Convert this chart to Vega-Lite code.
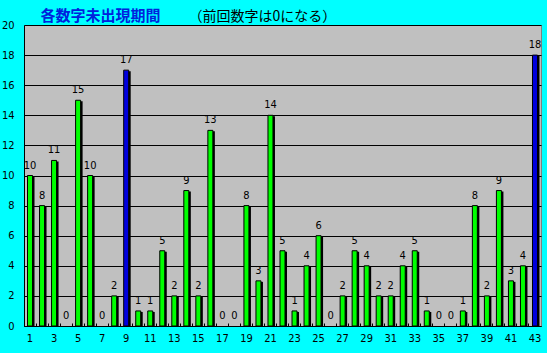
{
  "$schema": "https://vega.github.io/schema/vega-lite/v6.json",
  "width": 517,
  "height": 301,
  "autosize": {"type": "none"},
  "padding": {"left": 24, "top": 25, "right": 6, "bottom": 27},
  "background": "#00FFFF",
  "view": {"fill": "#C0C0C0", "stroke": "#808080"},
  "data": {
    "values": [
      {"n": 1, "v": 10, "c": "g"}, {"n": 2, "v": 8, "c": "g"}, {"n": 3, "v": 11, "c": "g"},
      {"n": 4, "v": 0, "c": "g"}, {"n": 5, "v": 15, "c": "g"}, {"n": 6, "v": 10, "c": "g"},
      {"n": 7, "v": 0, "c": "g"}, {"n": 8, "v": 2, "c": "g"}, {"n": 9, "v": 17, "c": "b"},
      {"n": 10, "v": 1, "c": "g"}, {"n": 11, "v": 1, "c": "g"}, {"n": 12, "v": 5, "c": "g"},
      {"n": 13, "v": 2, "c": "g"}, {"n": 14, "v": 9, "c": "g"}, {"n": 15, "v": 2, "c": "g"},
      {"n": 16, "v": 13, "c": "g"}, {"n": 17, "v": 0, "c": "g"}, {"n": 18, "v": 0, "c": "g"},
      {"n": 19, "v": 8, "c": "g"}, {"n": 20, "v": 3, "c": "g"}, {"n": 21, "v": 14, "c": "g"},
      {"n": 22, "v": 5, "c": "g"}, {"n": 23, "v": 1, "c": "g"}, {"n": 24, "v": 4, "c": "g"},
      {"n": 25, "v": 6, "c": "g"}, {"n": 26, "v": 0, "c": "g"}, {"n": 27, "v": 2, "c": "g"},
      {"n": 28, "v": 5, "c": "g"}, {"n": 29, "v": 4, "c": "g"}, {"n": 30, "v": 2, "c": "g"},
      {"n": 31, "v": 2, "c": "g"}, {"n": 32, "v": 4, "c": "g"}, {"n": 33, "v": 5, "c": "g"},
      {"n": 34, "v": 1, "c": "g"}, {"n": 35, "v": 0, "c": "g"}, {"n": 36, "v": 0, "c": "g"},
      {"n": 37, "v": 1, "c": "g"}, {"n": 38, "v": 8, "c": "g"}, {"n": 39, "v": 2, "c": "g"},
      {"n": 40, "v": 9, "c": "g"}, {"n": 41, "v": 3, "c": "g"}, {"n": 42, "v": 4, "c": "g"},
      {"n": 43, "v": 18, "c": "b"}
    ]
  },
  "encoding": {
    "x": {
      "field": "n",
      "type": "ordinal",
      "scale": {"paddingInner": 0, "paddingOuter": 0},
      "axis": {
        "labelExpr": "datum.value % 2 == 1 ? datum.label : ''",
        "labelAngle": 0,
        "labelFont": "DejaVu Sans Condensed, Liberation Sans",
        "labelFontSize": 11,
        "labelColor": "#000000",
        "labelPadding": 9,
        "bandPosition": 0,
        "tickSize": -3,
        "tickColor": "#000000",
        "domainColor": "#000000",
        "grid": false,
        "title": "（前回数字は0になる）",
        "titleX": 164,
        "titleY": -306,
        "titleAlign": "left",
        "titleAnchor": null,
        "titleBaseline": "alphabetic",
        "titleFont": "Noto Sans CJK JP",
        "titleFontSize": 14,
        "titleFontWeight": "normal",
        "titleColor": "#000000"
      }
    },
    "y": {
      "field": "v",
      "type": "quantitative",
      "scale": {"domain": [0, 20], "nice": false},
      "axis": {
        "values": [0, 2, 4, 6, 8, 10, 12, 14, 16, 18, 20],
        "grid": true,
        "gridColor": "#000000",
        "gridOpacity": 1,
        "tickSize": 0,
        "labelPadding": 10,
        "labelFont": "DejaVu Sans Condensed, Liberation Sans",
        "labelFontSize": 11,
        "labelColor": "#000000",
        "domainColor": "#000000",
        "title": "各数字未出現期間",
        "titleAngle": 0,
        "titleX": 16,
        "titleY": -5,
        "titleAlign": "left",
        "titleAnchor": null,
        "titleBaseline": "alphabetic",
        "titleFont": "Noto Sans CJK JP",
        "titleFontSize": 15,
        "titleFontWeight": "bold",
        "titleColor": "#0022DD"
      }
    }
  },
  "layer": [
    {
      "transform": [{"filter": "datum.v > 0"}],
      "mark": {"type": "bar", "width": 5, "xOffset": 2, "yOffset": 1, "color": "#000000"}
    },
    {
      "transform": [{"filter": "datum.v > 0"}],
      "mark": {"type": "bar", "width": 5, "stroke": "#000000", "strokeWidth": 1},
      "encoding": {
        "color": {
          "field": "c",
          "type": "nominal",
          "scale": {"domain": ["g", "b"], "range": ["#00FF00", "#0000DD"]},
          "legend": null
        }
      }
    },
    {
      "mark": {
        "type": "text",
        "baseline": "alphabetic",
        "dy": -7,
        "font": "DejaVu Sans Condensed, Liberation Sans",
        "fontSize": 11,
        "color": "#000000"
      },
      "encoding": {"text": {"field": "v", "type": "quantitative"}}
    }
  ]
}
